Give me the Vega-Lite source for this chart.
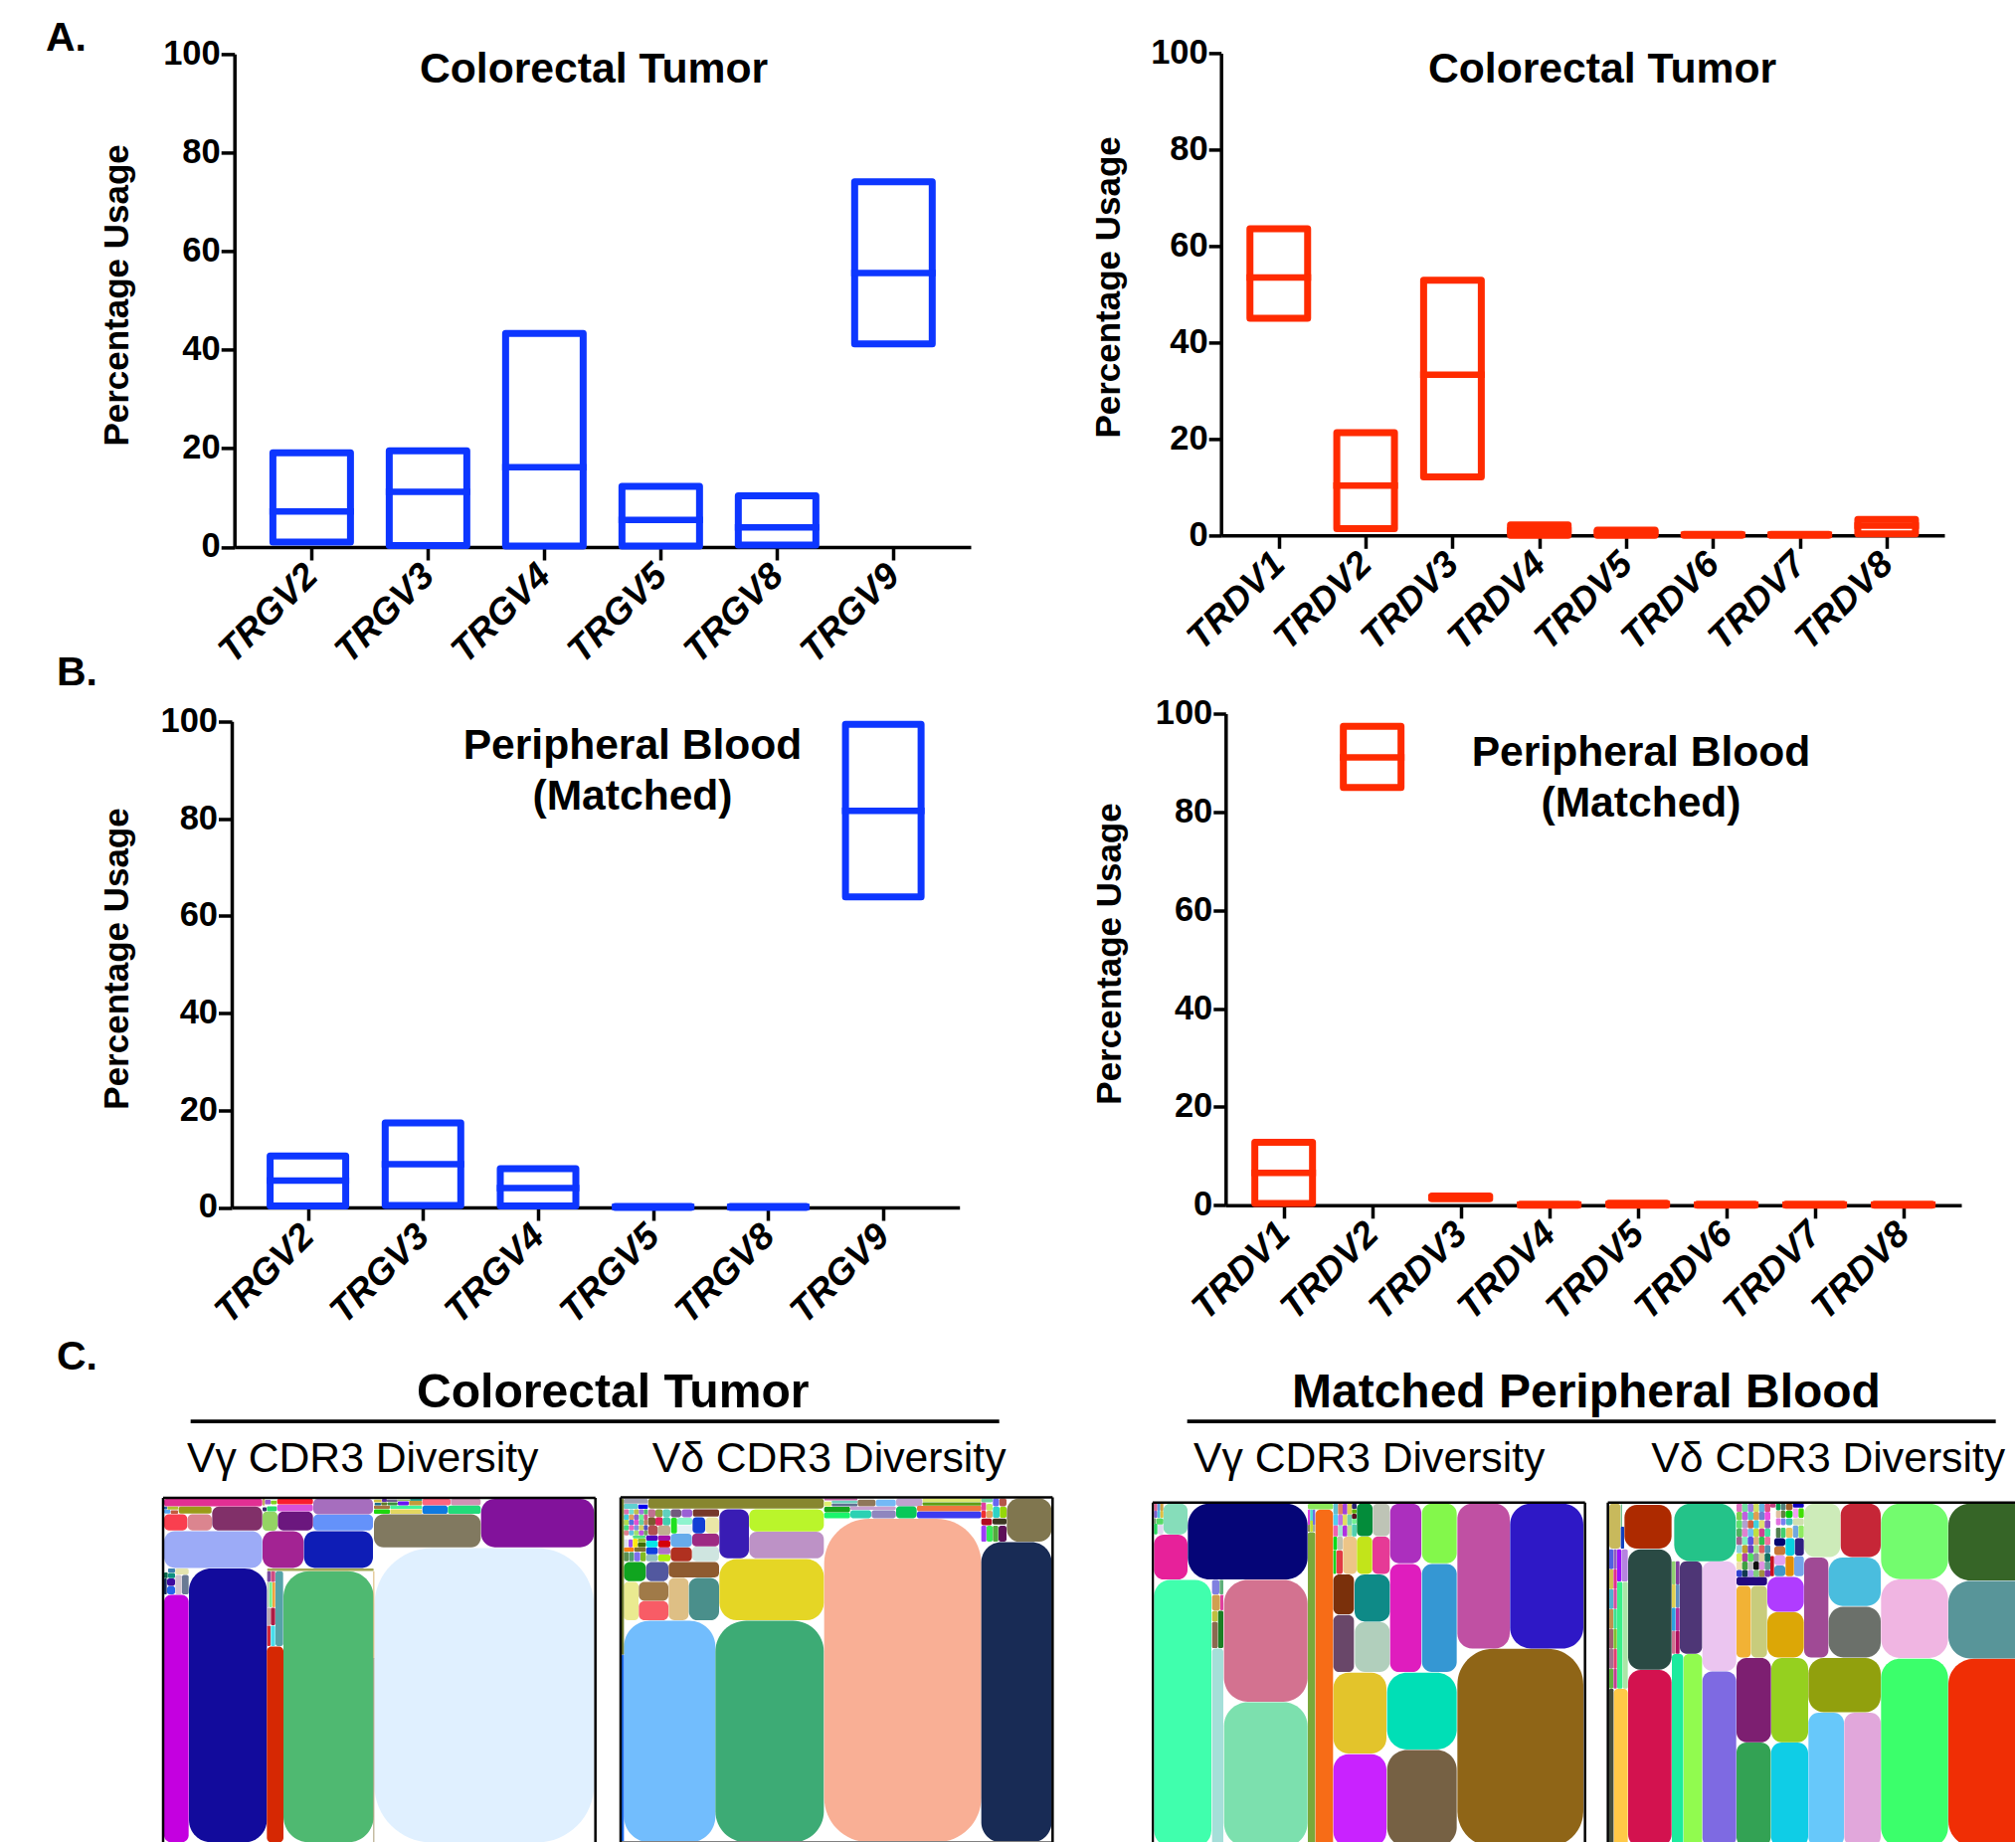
{"$schema":"https://vega.github.io/schema/vega-lite/v6.json","background":"white","padding":{"left":46,"top":17.4,"right":0,"bottom":0},"bounds":"flush","columns":2,"spacing":{"row":167.1,"column":0},"resolve":{"scale":{"color":"independent"}},
"config":{"view":{"stroke":null},"font":"Liberation Sans","axis":{"grid":false,"labelOverlap":false,"labelFlush":false},"title":{"font":"Liberation Sans","fontWeight":"bold","color":"black"},"text":{"font":"Liberation Sans"}},
"datasets":{
"a1":[{"segment":"TRGV2","low":1,"median":7.2,"high":19.1},{"segment":"TRGV3","low":0.3,"median":11.2,"high":19.5},{"segment":"TRGV4","low":0.2,"median":16.2,"high":43.3},{"segment":"TRGV5","low":0.2,"median":5.5,"high":12.3},{"segment":"TRGV8","low":0.4,"median":4,"high":10.4},{"segment":"TRGV9","low":41.2,"median":55.6,"high":74.1}],
"a2":[{"segment":"TRDV1","low":45,"median":53.5,"high":63.6},{"segment":"TRDV2","low":1.4,"median":10.3,"high":21.3},{"segment":"TRDV3","low":12.1,"median":33.3,"high":52.9},{"segment":"TRDV4","low":0,"median":1,"high":2.2},{"segment":"TRDV5","low":0,"median":0.5,"high":1.1},{"segment":"TRDV6","low":0,"median":0.1,"high":0.2},{"segment":"TRDV7","low":0,"median":0.1,"high":0.2},{"segment":"TRDV8","low":0.3,"median":2,"high":3.3}],
"b1":[{"segment":"TRGV2","low":0.3,"median":5.5,"high":10.6},{"segment":"TRGV3","low":0.4,"median":8.9,"high":17.4},{"segment":"TRGV4","low":0.3,"median":4,"high":8},{"segment":"TRGV5","low":0,"median":0.1,"high":0.2},{"segment":"TRGV8","low":0,"median":0.1,"high":0.2},{"segment":"TRGV9","low":63.9,"median":81.6,"high":99.4}],
"b2":[{"segment":"TRDV1","low":0.35,"median":6.6,"high":12.8},{"segment":"TRDV2","low":85,"median":91.1,"high":97.4},{"segment":"TRDV3","low":1.3,"median":1.6,"high":1.9},{"segment":"TRDV4","low":0,"median":0.1,"high":0.2},{"segment":"TRDV5","low":0,"median":0.2,"high":0.4},{"segment":"TRDV6","low":0,"median":0.1,"high":0.2},{"segment":"TRDV7","low":0,"median":0.1,"high":0.2},{"segment":"TRDV8","low":0,"median":0.1,"high":0.2}],
"t1":[
{"id":"001","x0":682,"y0":198,"x1":1345,"y1":1086},{"id":"002","x0":123,"y0":260,"x1":358,"y1":1086},{"id":"003","x0":408,"y0":268,"x1":680,"y1":1086},{"id":"004","x0":48,"y0":339,"x1":122,"y1":1086},{"id":"005","x0":358,"y0":495,"x1":408,"y1":1086},{"id":"006","x0":1004,"y0":50,"x1":1345,"y1":196},{"id":"007","x0":681,"y0":96,"x1":1003,"y1":196},{"id":"008","x0":48,"y0":147,"x1":344,"y1":258},{"id":"009","x0":345,"y0":147,"x1":469,"y1":258},{"id":"010","x0":470,"y0":147,"x1":678,"y1":258},
{"id":"011","x0":48,"y0":96,"x1":118,"y1":145},{"id":"012","x0":119,"y0":96,"x1":192,"y1":145},{"id":"013","x0":193,"y0":73,"x1":344,"y1":145},{"id":"014","x0":345,"y0":88,"x1":390,"y1":146},{"id":"015","x0":391,"y0":88,"x1":497,"y1":145},{"id":"016","x0":498,"y0":97,"x1":678,"y1":145},{"id":"017","x0":498,"y0":50,"x1":678,"y1":96},{"id":"018","x0":389,"y0":67,"x1":497,"y1":87},{"id":"019","x0":389,"y0":50,"x1":497,"y1":66},{"id":"020","x0":48,"y0":50,"x1":344,"y1":72},
{"id":"021","x0":92,"y0":73,"x1":191,"y1":94},{"id":"022","x0":48,"y0":82,"x1":67,"y1":94},{"id":"023","x0":68,"y0":84,"x1":90,"y1":95},{"id":"024","x0":58,"y0":73,"x1":91,"y1":82},{"id":"025","x0":48,"y0":73,"x1":57,"y1":81},{"id":"026","x0":352,"y0":53,"x1":370,"y1":66},{"id":"027","x0":370,"y0":55,"x1":388,"y1":66},{"id":"028","x0":358,"y0":72,"x1":388,"y1":87},{"id":"029","x0":345,"y0":75,"x1":357,"y1":87},{"id":"030","x0":345,"y0":50,"x1":352,"y1":70},
{"id":"031","x0":827,"y0":50,"x1":912,"y1":69},{"id":"032","x0":913,"y0":50,"x1":1003,"y1":69},{"id":"033","x0":827,"y0":70,"x1":903,"y1":95},{"id":"034","x0":904,"y0":70,"x1":1003,"y1":95},{"id":"035","x0":730,"y0":81,"x1":826,"y1":95},{"id":"036","x0":681,"y0":81,"x1":729,"y1":95},{"id":"037","x0":730,"y0":70,"x1":826,"y1":80},{"id":"038","x0":681,"y0":70,"x1":729,"y1":80},{"id":"039","x0":787,"y0":56,"x1":826,"y1":69},{"id":"040","x0":753,"y0":57,"x1":786,"y1":69},
{"id":"041","x0":722,"y0":60,"x1":752,"y1":69},{"id":"042","x0":703,"y0":60,"x1":721,"y1":69},{"id":"043","x0":683,"y0":62,"x1":702,"y1":69},{"id":"044","x0":681,"y0":52,"x1":704,"y1":60},{"id":"045","x0":705,"y0":50,"x1":720,"y1":59},{"id":"046","x0":720,"y0":52,"x1":752,"y1":59},{"id":"047","x0":752,"y0":52,"x1":790,"y1":56},{"id":"048","x0":790,"y0":50,"x1":826,"y1":56},{"id":"049","x0":82,"y0":279,"x1":101,"y1":338},{"id":"050","x0":102,"y0":279,"x1":122,"y1":338},
{"id":"051","x0":82,"y0":260,"x1":122,"y1":278},{"id":"052","x0":57,"y0":313,"x1":81,"y1":338},{"id":"053","x0":57,"y0":290,"x1":81,"y1":312},{"id":"054","x0":60,"y0":273,"x1":81,"y1":289},{"id":"055","x0":60,"y0":260,"x1":81,"y1":272},{"id":"056","x0":48,"y0":272,"x1":59,"y1":289},{"id":"057","x0":48,"y0":290,"x1":56,"y1":338},{"id":"058","x0":359,"y0":260,"x1":680,"y1":267},{"id":"059","x0":384,"y0":268,"x1":407,"y1":494},{"id":"060","x0":370,"y0":432,"x1":383,"y1":494},
{"id":"061","x0":359,"y0":432,"x1":369,"y1":494},{"id":"062","x0":370,"y0":378,"x1":383,"y1":431},{"id":"063","x0":359,"y0":378,"x1":369,"y1":431},{"id":"064","x0":375,"y0":301,"x1":383,"y1":377},{"id":"065","x0":365,"y0":301,"x1":374,"y1":377},{"id":"066","x0":359,"y0":301,"x1":364,"y1":377},{"id":"067","x0":370,"y0":268,"x1":383,"y1":300},{"id":"068","x0":359,"y0":268,"x1":369,"y1":300},{"id":"069","x0":679,"y0":268,"x1":682,"y1":530},{"id":"070","x0":679,"y0":530,"x1":682,"y1":1086}
],
"t2":[
{"id":"001","x0":55,"y0":417,"x1":331,"y1":1086},{"id":"002","x0":331,"y0":417,"x1":658,"y1":1086},{"id":"003","x0":659,"y0":110,"x1":1133,"y1":1086},{"id":"004","x0":1133,"y0":180,"x1":1345,"y1":1086},{"id":"005","x0":1210,"y0":48,"x1":1345,"y1":179},{"id":"006","x0":343,"y0":231,"x1":658,"y1":416},{"id":"007","x0":433,"y0":81,"x1":658,"y1":148},{"id":"008","x0":433,"y0":149,"x1":658,"y1":229},{"id":"009","x0":343,"y0":81,"x1":432,"y1":229},{"id":"010","x0":128,"y0":48,"x1":658,"y1":79},
{"id":"011","x0":55,"y0":300,"x1":99,"y1":416},{"id":"012","x0":100,"y0":300,"x1":189,"y1":357},{"id":"013","x0":100,"y0":358,"x1":189,"y1":416},{"id":"014","x0":190,"y0":288,"x1":250,"y1":416},{"id":"015","x0":251,"y0":288,"x1":342,"y1":416},{"id":"016","x0":55,"y0":240,"x1":121,"y1":298},{"id":"017","x0":122,"y0":240,"x1":189,"y1":298},{"id":"018","x0":190,"y0":240,"x1":342,"y1":287},{"id":"019","x0":196,"y0":196,"x1":260,"y1":238},{"id":"020","x0":261,"y0":194,"x1":342,"y1":238},
{"id":"021","x0":196,"y0":155,"x1":260,"y1":195},{"id":"022","x0":261,"y0":155,"x1":342,"y1":193},{"id":"023","x0":262,"y0":105,"x1":300,"y1":154},{"id":"024","x0":301,"y0":105,"x1":342,"y1":154},{"id":"025","x0":197,"y0":107,"x1":215,"y1":154},{"id":"026","x0":216,"y0":107,"x1":261,"y1":128},{"id":"027","x0":216,"y0":129,"x1":261,"y1":154},{"id":"028","x0":196,"y0":81,"x1":228,"y1":105},{"id":"029","x0":229,"y0":81,"x1":261,"y1":105},{"id":"030","x0":263,"y0":81,"x1":342,"y1":103},
{"id":"031","x0":158,"y0":218,"x1":195,"y1":238},{"id":"032","x0":122,"y0":218,"x1":157,"y1":238},{"id":"033","x0":158,"y0":196,"x1":195,"y1":217},{"id":"034","x0":122,"y0":196,"x1":157,"y1":217},{"id":"035","x0":158,"y0":176,"x1":195,"y1":196},{"id":"036","x0":122,"y0":176,"x1":157,"y1":196},{"id":"037","x0":158,"y0":160,"x1":195,"y1":176},{"id":"038","x0":122,"y0":160,"x1":157,"y1":176},{"id":"039","x0":105,"y0":210,"x1":121,"y1":238},{"id":"040","x0":86,"y0":210,"x1":104,"y1":238},
{"id":"041","x0":71,"y0":210,"x1":85,"y1":238},{"id":"042","x0":55,"y0":210,"x1":70,"y1":238},{"id":"043","x0":86,"y0":196,"x1":121,"y1":209},{"id":"044","x0":55,"y0":196,"x1":85,"y1":209},{"id":"045","x0":97,"y0":182,"x1":121,"y1":195},{"id":"046","x0":97,"y0":170,"x1":121,"y1":181},{"id":"047","x0":82,"y0":170,"x1":96,"y1":196},{"id":"048","x0":69,"y0":172,"x1":81,"y1":196},{"id":"049","x0":55,"y0":172,"x1":68,"y1":196},{"id":"050","x0":82,"y0":160,"x1":120,"y1":169},
{"id":"051","x0":55,"y0":81,"x1":70,"y1":97},{"id":"052","x0":70,"y0":81,"x1":85,"y1":97},{"id":"053","x0":85,"y0":81,"x1":100,"y1":97},{"id":"054","x0":100,"y0":81,"x1":115,"y1":97},{"id":"055","x0":115,"y0":81,"x1":127,"y1":97},{"id":"056","x0":55,"y0":97,"x1":70,"y1":113},{"id":"057","x0":70,"y0":97,"x1":85,"y1":113},{"id":"058","x0":85,"y0":97,"x1":100,"y1":113},{"id":"059","x0":100,"y0":97,"x1":115,"y1":113},{"id":"060","x0":115,"y0":97,"x1":127,"y1":113},
{"id":"061","x0":55,"y0":113,"x1":70,"y1":129},{"id":"062","x0":70,"y0":113,"x1":85,"y1":129},{"id":"063","x0":85,"y0":113,"x1":100,"y1":129},{"id":"064","x0":100,"y0":113,"x1":115,"y1":129},{"id":"065","x0":115,"y0":113,"x1":127,"y1":129},{"id":"066","x0":55,"y0":129,"x1":70,"y1":145},{"id":"067","x0":70,"y0":129,"x1":85,"y1":145},{"id":"068","x0":85,"y0":129,"x1":100,"y1":145},{"id":"069","x0":100,"y0":129,"x1":115,"y1":145},{"id":"070","x0":115,"y0":129,"x1":127,"y1":145},
{"id":"071","x0":55,"y0":145,"x1":70,"y1":160},{"id":"072","x0":70,"y0":145,"x1":85,"y1":160},{"id":"073","x0":85,"y0":145,"x1":100,"y1":160},{"id":"074","x0":100,"y0":145,"x1":115,"y1":160},{"id":"075","x0":115,"y0":145,"x1":127,"y1":160},{"id":"076","x0":98,"y0":67,"x1":127,"y1":80},{"id":"077","x0":55,"y0":65,"x1":97,"y1":80},{"id":"078","x0":55,"y0":50,"x1":127,"y1":64},{"id":"079","x0":128,"y0":81,"x1":150,"y1":105},{"id":"080","x0":150,"y0":81,"x1":172,"y1":105},
{"id":"081","x0":172,"y0":81,"x1":195,"y1":105},{"id":"082","x0":128,"y0":105,"x1":150,"y1":130},{"id":"083","x0":150,"y0":105,"x1":172,"y1":130},{"id":"084","x0":172,"y0":105,"x1":195,"y1":130},{"id":"085","x0":128,"y0":130,"x1":157,"y1":159},{"id":"086","x0":157,"y0":130,"x1":195,"y1":159},{"id":"087","x0":760,"y0":52,"x1":814,"y1":72},{"id":"088","x0":815,"y0":52,"x1":875,"y1":72},{"id":"089","x0":876,"y0":48,"x1":955,"y1":72},{"id":"090","x0":956,"y0":48,"x1":1133,"y1":59},
{"id":"091","x0":956,"y0":60,"x1":1133,"y1":70},{"id":"092","x0":939,"y0":71,"x1":1133,"y1":87},{"id":"093","x0":939,"y0":88,"x1":1133,"y1":108},{"id":"094","x0":876,"y0":72,"x1":938,"y1":108},{"id":"095","x0":802,"y0":84,"x1":875,"y1":108},{"id":"096","x0":738,"y0":84,"x1":801,"y1":108},{"id":"097","x0":659,"y0":91,"x1":737,"y1":108},{"id":"098","x0":659,"y0":74,"x1":737,"y1":90},{"id":"099","x0":738,"y0":73,"x1":875,"y1":83},{"id":"100","x0":659,"y0":58,"x1":681,"y1":72},
{"id":"101","x0":682,"y0":64,"x1":759,"y1":72},{"id":"102","x0":682,"y0":55,"x1":759,"y1":63},{"id":"103","x0":659,"y0":48,"x1":759,"y1":54},{"id":"104","x0":1133,"y0":109,"x1":1165,"y1":129},{"id":"105","x0":1167,"y0":109,"x1":1209,"y1":127},{"id":"106","x0":1133,"y0":131,"x1":1148,"y1":179},{"id":"107","x0":1149,"y0":131,"x1":1167,"y1":179},{"id":"108","x0":1168,"y0":131,"x1":1184,"y1":179},{"id":"109","x0":1185,"y0":131,"x1":1209,"y1":179},{"id":"110","x0":1189,"y0":73,"x1":1209,"y1":107},
{"id":"111","x0":1168,"y0":73,"x1":1188,"y1":107},{"id":"112","x0":1148,"y0":86,"x1":1167,"y1":107},{"id":"113","x0":1133,"y0":86,"x1":1147,"y1":107},{"id":"114","x0":1187,"y0":48,"x1":1209,"y1":72},{"id":"115","x0":1168,"y0":48,"x1":1186,"y1":72},{"id":"116","x0":1148,"y0":65,"x1":1167,"y1":85},{"id":"117","x0":1133,"y0":60,"x1":1147,"y1":85},{"id":"118","x0":1133,"y0":48,"x1":1167,"y1":60},{"id":"119","x0":48,"y0":50,"x1":55,"y1":520},{"id":"120","x0":48,"y0":520,"x1":55,"y1":1086},
{"id":"121","x0":42,"y0":1082,"x1":1350,"y1":1086}
],
"t3":[
{"id":"001","x0":34,"y0":294,"x1":207,"y1":1100},{"id":"002","x0":209,"y0":501,"x1":243,"y1":1100},{"id":"003","x0":245,"y0":294,"x1":497,"y1":662},{"id":"004","x0":245,"y0":663,"x1":497,"y1":1100},{"id":"005","x0":136,"y0":64,"x1":497,"y1":293},{"id":"006","x0":34,"y0":158,"x1":135,"y1":293},{"id":"007","x0":62,"y0":64,"x1":135,"y1":157},{"id":"008","x0":498,"y0":150,"x1":520,"y1":1100},{"id":"009","x0":521,"y0":82,"x1":574,"y1":1100},{"id":"010","x0":498,"y0":64,"x1":574,"y1":81},
{"id":"011","x0":949,"y0":502,"x1":1329,"y1":1100},{"id":"012","x0":1108,"y0":64,"x1":1329,"y1":501},{"id":"013","x0":949,"y0":64,"x1":1107,"y1":501},{"id":"014","x0":575,"y0":820,"x1":735,"y1":1100},{"id":"015","x0":737,"y0":807,"x1":947,"y1":1100},{"id":"016","x0":575,"y0":574,"x1":735,"y1":818},{"id":"017","x0":737,"y0":574,"x1":947,"y1":806},{"id":"018","x0":746,"y0":246,"x1":840,"y1":572},{"id":"019","x0":842,"y0":246,"x1":947,"y1":572},{"id":"020","x0":746,"y0":64,"x1":840,"y1":244},
{"id":"021","x0":842,"y0":64,"x1":947,"y1":244},{"id":"022","x0":575,"y0":278,"x1":637,"y1":398},{"id":"023","x0":639,"y0":278,"x1":745,"y1":420},{"id":"024","x0":575,"y0":400,"x1":637,"y1":572},{"id":"025","x0":640,"y0":421,"x1":745,"y1":572},{"id":"026","x0":693,"y0":164,"x1":745,"y1":276},{"id":"027","x0":646,"y0":164,"x1":692,"y1":276},{"id":"028","x0":604,"y0":164,"x1":645,"y1":276},{"id":"029","x0":584,"y0":205,"x1":603,"y1":276},{"id":"030","x0":575,"y0":205,"x1":583,"y1":276},
{"id":"031","x0":587,"y0":164,"x1":603,"y1":204},{"id":"032","x0":575,"y0":164,"x1":586,"y1":204},{"id":"033","x0":646,"y0":64,"x1":693,"y1":162},{"id":"034","x0":694,"y0":64,"x1":745,"y1":162},{"id":"035","x0":41,"y0":108,"x1":62,"y1":127},{"id":"036","x0":45,"y0":128,"x1":62,"y1":157},{"id":"037","x0":34,"y0":125,"x1":44,"y1":157},{"id":"038","x0":34,"y0":108,"x1":40,"y1":125},{"id":"039","x0":34,"y0":64,"x1":44,"y1":86},{"id":"040","x0":44,"y0":64,"x1":53,"y1":86},
{"id":"041","x0":53,"y0":64,"x1":62,"y1":86},{"id":"042","x0":34,"y0":86,"x1":44,"y1":107},{"id":"043","x0":44,"y0":86,"x1":53,"y1":107},{"id":"044","x0":53,"y0":86,"x1":62,"y1":107},{"id":"045","x0":498,"y0":82,"x1":505,"y1":128},{"id":"046","x0":505,"y0":82,"x1":513,"y1":128},{"id":"047","x0":513,"y0":82,"x1":520,"y1":128},{"id":"048","x0":498,"y0":128,"x1":505,"y1":149},{"id":"049","x0":505,"y0":115,"x1":513,"y1":149},{"id":"050","x0":513,"y0":128,"x1":520,"y1":149},
{"id":"051","x0":575,"y0":64,"x1":589,"y1":97},{"id":"052","x0":589,"y0":64,"x1":603,"y1":97},{"id":"053","x0":603,"y0":64,"x1":617,"y1":97},{"id":"054","x0":617,"y0":64,"x1":631,"y1":97},{"id":"055","x0":631,"y0":64,"x1":645,"y1":80},{"id":"056","x0":575,"y0":97,"x1":589,"y1":130},{"id":"057","x0":589,"y0":97,"x1":603,"y1":130},{"id":"058","x0":603,"y0":97,"x1":617,"y1":130},{"id":"059","x0":617,"y0":97,"x1":631,"y1":130},{"id":"060","x0":631,"y0":81,"x1":645,"y1":94},
{"id":"061","x0":631,"y0":95,"x1":645,"y1":110},{"id":"062","x0":631,"y0":110,"x1":645,"y1":125},{"id":"063","x0":575,"y0":130,"x1":589,"y1":163},{"id":"064","x0":589,"y0":130,"x1":603,"y1":163},{"id":"065","x0":603,"y0":130,"x1":617,"y1":163},{"id":"066","x0":617,"y0":130,"x1":631,"y1":163},{"id":"067","x0":631,"y0":126,"x1":645,"y1":163},{"id":"068","x0":227,"y0":387,"x1":243,"y1":500},{"id":"069","x0":232,"y0":294,"x1":243,"y1":338},{"id":"070","x0":234,"y0":339,"x1":243,"y1":386},
{"id":"071","x0":209,"y0":388,"x1":226,"y1":420},{"id":"072","x0":209,"y0":421,"x1":226,"y1":500},{"id":"073","x0":209,"y0":294,"x1":231,"y1":338},{"id":"074","x0":209,"y0":339,"x1":233,"y1":387}
],
"t4":[
{"id":"001","x0":1080,"y0":532,"x1":1353,"y1":1100},{"id":"002","x0":877,"y0":532,"x1":1079,"y1":1100},{"id":"003","x0":1080,"y0":297,"x1":1353,"y1":531},{"id":"004","x0":877,"y0":293,"x1":1079,"y1":530},{"id":"005","x0":1080,"y0":64,"x1":1353,"y1":296},{"id":"006","x0":877,"y0":64,"x1":1079,"y1":292},{"id":"007","x0":755,"y0":64,"x1":876,"y1":225},{"id":"008","x0":645,"y0":64,"x1":754,"y1":225},{"id":"009","x0":719,"y0":227,"x1":876,"y1":373},{"id":"010","x0":719,"y0":375,"x1":876,"y1":528},
{"id":"011","x0":645,"y0":227,"x1":718,"y1":528},{"id":"012","x0":658,"y0":530,"x1":876,"y1":693},{"id":"013","x0":766,"y0":695,"x1":876,"y1":1100},{"id":"014","x0":658,"y0":695,"x1":765,"y1":1100},{"id":"015","x0":546,"y0":530,"x1":657,"y1":784},{"id":"016","x0":545,"y0":785,"x1":657,"y1":1100},{"id":"017","x0":441,"y0":530,"x1":545,"y1":784},{"id":"018","x0":441,"y0":785,"x1":544,"y1":1100},{"id":"019","x0":338,"y0":570,"x1":440,"y1":1100},{"id":"020","x0":338,"y0":238,"x1":440,"y1":569},
{"id":"021","x0":270,"y0":238,"x1":337,"y1":517},{"id":"022","x0":281,"y0":518,"x1":337,"y1":1100},{"id":"023","x0":246,"y0":518,"x1":280,"y1":1100},{"id":"024","x0":114,"y0":566,"x1":245,"y1":1100},{"id":"025","x0":114,"y0":202,"x1":245,"y1":565},{"id":"026","x0":103,"y0":68,"x1":245,"y1":200},{"id":"027","x0":253,"y0":64,"x1":439,"y1":238},{"id":"028","x0":57,"y0":64,"x1":91,"y1":200},{"id":"029","x0":71,"y0":623,"x1":113,"y1":1100},{"id":"030","x0":57,"y0":623,"x1":70,"y1":1100},
{"id":"031","x0":81,"y0":300,"x1":97,"y1":622},{"id":"032","x0":98,"y0":300,"x1":113,"y1":622},{"id":"033","x0":94,"y0":202,"x1":113,"y1":299},{"id":"034","x0":81,"y0":202,"x1":93,"y1":299},{"id":"035","x0":534,"y0":391,"x1":644,"y1":528},{"id":"036","x0":534,"y0":285,"x1":644,"y1":390},{"id":"037","x0":485,"y0":312,"x1":533,"y1":528},{"id":"038","x0":441,"y0":312,"x1":484,"y1":528},{"id":"039","x0":441,"y0":285,"x1":533,"y1":311},{"id":"040","x0":615,"y0":222,"x1":644,"y1":283},
{"id":"041","x0":589,"y0":222,"x1":614,"y1":283},{"id":"042","x0":555,"y0":251,"x1":588,"y1":283},{"id":"043","x0":555,"y0":220,"x1":588,"y1":250},{"id":"044","x0":617,"y0":168,"x1":644,"y1":221},{"id":"045","x0":589,"y0":168,"x1":616,"y1":221},{"id":"046","x0":555,"y0":193,"x1":588,"y1":219},{"id":"047","x0":555,"y0":168,"x1":588,"y1":192},{"id":"048","x0":543,"y0":222,"x1":554,"y1":283},{"id":"049","x0":628,"y0":130,"x1":644,"y1":167},{"id":"050","x0":611,"y0":130,"x1":627,"y1":167},
{"id":"051","x0":590,"y0":137,"x1":610,"y1":167},{"id":"052","x0":575,"y0":137,"x1":589,"y1":167},{"id":"053","x0":560,"y0":137,"x1":574,"y1":167},{"id":"054","x0":611,"y0":108,"x1":644,"y1":129},{"id":"055","x0":590,"y0":108,"x1":610,"y1":129},{"id":"056","x0":575,"y0":108,"x1":589,"y1":129},{"id":"057","x0":560,"y0":108,"x1":574,"y1":129},{"id":"058","x0":628,"y0":78,"x1":644,"y1":107},{"id":"059","x0":611,"y0":78,"x1":627,"y1":107},{"id":"060","x0":589,"y0":85,"x1":610,"y1":107},
{"id":"061","x0":575,"y0":85,"x1":588,"y1":107},{"id":"062","x0":560,"y0":85,"x1":574,"y1":107},{"id":"063","x0":611,"y0":64,"x1":644,"y1":76},{"id":"064","x0":590,"y0":64,"x1":610,"y1":84},{"id":"065","x0":575,"y0":64,"x1":589,"y1":84},{"id":"066","x0":560,"y0":64,"x1":574,"y1":84},{"id":"067","x0":543,"y0":64,"x1":559,"y1":76},
{"id":"068","x0":441,"y0":64,"x1":458,"y1":89},{"id":"069","x0":458,"y0":64,"x1":475,"y1":89},{"id":"070","x0":475,"y0":64,"x1":492,"y1":89},{"id":"071","x0":492,"y0":64,"x1":509,"y1":89},{"id":"072","x0":509,"y0":64,"x1":526,"y1":89},{"id":"073","x0":526,"y0":64,"x1":543,"y1":89},
{"id":"074","x0":441,"y0":89,"x1":458,"y1":114},{"id":"075","x0":458,"y0":89,"x1":475,"y1":114},{"id":"076","x0":475,"y0":89,"x1":492,"y1":114},{"id":"077","x0":492,"y0":89,"x1":509,"y1":114},{"id":"078","x0":509,"y0":89,"x1":526,"y1":114},{"id":"079","x0":526,"y0":89,"x1":543,"y1":114},
{"id":"080","x0":441,"y0":114,"x1":458,"y1":139},{"id":"081","x0":458,"y0":114,"x1":475,"y1":139},{"id":"082","x0":475,"y0":114,"x1":492,"y1":139},{"id":"083","x0":492,"y0":114,"x1":509,"y1":139},{"id":"084","x0":509,"y0":114,"x1":526,"y1":139},{"id":"085","x0":526,"y0":114,"x1":543,"y1":139},
{"id":"086","x0":441,"y0":139,"x1":458,"y1":164},{"id":"087","x0":458,"y0":139,"x1":475,"y1":164},{"id":"088","x0":475,"y0":139,"x1":492,"y1":164},{"id":"089","x0":492,"y0":139,"x1":509,"y1":164},{"id":"090","x0":509,"y0":139,"x1":526,"y1":164},{"id":"091","x0":526,"y0":139,"x1":543,"y1":164},
{"id":"092","x0":441,"y0":164,"x1":458,"y1":189},{"id":"093","x0":458,"y0":164,"x1":475,"y1":189},{"id":"094","x0":475,"y0":164,"x1":492,"y1":189},{"id":"095","x0":492,"y0":164,"x1":509,"y1":189},{"id":"096","x0":509,"y0":164,"x1":526,"y1":189},{"id":"097","x0":526,"y0":164,"x1":543,"y1":189},
{"id":"098","x0":441,"y0":189,"x1":458,"y1":214},{"id":"099","x0":458,"y0":189,"x1":475,"y1":214},{"id":"100","x0":475,"y0":189,"x1":492,"y1":214},{"id":"101","x0":492,"y0":189,"x1":509,"y1":214},{"id":"102","x0":509,"y0":189,"x1":526,"y1":214},{"id":"103","x0":526,"y0":189,"x1":543,"y1":214},
{"id":"104","x0":441,"y0":214,"x1":458,"y1":239},{"id":"105","x0":458,"y0":214,"x1":475,"y1":239},{"id":"106","x0":475,"y0":214,"x1":492,"y1":239},{"id":"107","x0":492,"y0":214,"x1":509,"y1":239},{"id":"108","x0":509,"y0":214,"x1":526,"y1":239},{"id":"109","x0":526,"y0":214,"x1":543,"y1":239},
{"id":"110","x0":441,"y0":239,"x1":458,"y1":264},{"id":"111","x0":458,"y0":239,"x1":475,"y1":264},{"id":"112","x0":475,"y0":239,"x1":492,"y1":264},{"id":"113","x0":492,"y0":239,"x1":509,"y1":264},{"id":"114","x0":509,"y0":239,"x1":526,"y1":264},{"id":"115","x0":526,"y0":239,"x1":543,"y1":264},
{"id":"116","x0":441,"y0":264,"x1":458,"y1":285},{"id":"117","x0":458,"y0":264,"x1":475,"y1":285},{"id":"118","x0":475,"y0":264,"x1":492,"y1":285},{"id":"119","x0":492,"y0":264,"x1":509,"y1":285},{"id":"120","x0":509,"y0":264,"x1":526,"y1":285},{"id":"121","x0":526,"y0":264,"x1":543,"y1":285},
{"id":"122","x0":57,"y0":202,"x1":69,"y1":262},{"id":"123","x0":70,"y0":202,"x1":80,"y1":262},{"id":"124","x0":57,"y0":262,"x1":69,"y1":322},{"id":"125","x0":70,"y0":262,"x1":80,"y1":322},{"id":"126","x0":57,"y0":322,"x1":69,"y1":382},{"id":"127","x0":70,"y0":322,"x1":80,"y1":382},{"id":"128","x0":57,"y0":382,"x1":69,"y1":442},{"id":"129","x0":70,"y0":382,"x1":80,"y1":442},{"id":"130","x0":57,"y0":442,"x1":69,"y1":502},{"id":"131","x0":70,"y0":442,"x1":80,"y1":502},{"id":"132","x0":57,"y0":502,"x1":69,"y1":562},{"id":"133","x0":70,"y0":502,"x1":80,"y1":562},{"id":"134","x0":57,"y0":562,"x1":69,"y1":622},{"id":"135","x0":70,"y0":562,"x1":80,"y1":622},
{"id":"136","x0":246,"y0":238,"x1":257,"y1":308},{"id":"137","x0":258,"y0":238,"x1":269,"y1":308},{"id":"138","x0":246,"y0":308,"x1":257,"y1":378},{"id":"139","x0":258,"y0":308,"x1":269,"y1":378},{"id":"140","x0":246,"y0":378,"x1":257,"y1":448},{"id":"141","x0":258,"y0":378,"x1":269,"y1":448},{"id":"142","x0":246,"y0":448,"x1":257,"y1":517},{"id":"143","x0":258,"y0":448,"x1":269,"y1":517},{"id":"144","x0":92,"y0":66,"x1":96,"y1":134},{"id":"145","x0":92,"y0":134,"x1":102,"y1":200}
]
},
"concat":[
{"width":995,"height":496.6,"title":{"text":"Colorectal Tumor","fontSize":42.7,"anchor":"middle","baseline":"alphabetic","offset":0,"dx":-63.5,"dy":108},"resolve":{"scale":{"x":"independent"}},
"layer":[{"data":{"name":"a1"},"layer":[{"mark":{"type":"bar","size":78,"fill":"transparent","stroke":"#0D36FF","strokeWidth":7,"strokeJoin":"round"},"encoding":{"x":{"field":"segment","type":"nominal","sort":null,"scale":{"type":"point","padding":0.664,"range":[72.7,813]},"axis":{"title":null,"domainColor":"black","domainWidth":3.5,"tickColor":"black","tickWidth":3.5,"tickSize":13,"labelAngle":-45,"labelAlign":"right","labelBaseline":"middle","labelPadding":10,"labelFontSize":37,"labelFontWeight":"bold","labelFontStyle":"italic","labelColor":"black"}},"y":{"field":"low","type":"quantitative","scale":{"domain":[0,100],"range":[496.6,0.9],"nice":false},"axis":{"title":"Percentage Usage","titleFontSize":35,"titleFontWeight":"bold","titleColor":"black","titleX":-100,"titleY":243,"offset":-72.7,"values":[0,20,40,60,80,100],"domainColor":"black","domainWidth":3.5,"tickColor":"black","tickWidth":3.5,"tickSize":13.5,"labelPadding":1,"labelFontSize":34.5,"labelFontWeight":"bold","labelColor":"black"}},"y2":{"field":"high"}}},
{"mark":{"type":"tick","size":85,"thickness":6.5,"color":"#0D36FF","opacity":1},"encoding":{"x":{"field":"segment","type":"nominal","sort":null},"y":{"field":"median","type":"quantitative"}}}]},
{"data":{"values":[{"px":-117,"value":100.64,"label":"A."}]},"mark":{"type":"text","align":"left","baseline":"alphabetic","fontSize":41,"fontWeight":"bold","color":"black"},"encoding":{"x":{"field":"px","type":"quantitative","scale":{"domain":[0,995],"nice":false,"zero":false},"axis":null},"y":{"field":"value","type":"quantitative"},"text":{"field":"label"}}}]},
{"width":868,"height":484.9,"data":{"name":"a2"},"title":{"text":"Colorectal Tumor","fontSize":42.7,"anchor":"middle","baseline":"alphabetic","offset":0,"dx":19,"dy":90},
"layer":[{"mark":{"type":"bar","size":58,"fill":"transparent","stroke":"#FF2B00","strokeWidth":7,"strokeJoin":"round"},"encoding":{"x":{"field":"segment","type":"nominal","sort":null,"scale":{"type":"point","padding":0.665,"range":[69.7,797]},"axis":{"title":null,"domainColor":"black","domainWidth":3.5,"tickColor":"black","tickWidth":3.5,"tickSize":13,"labelAngle":-45,"labelAlign":"right","labelBaseline":"middle","labelPadding":10,"labelFontSize":37,"labelFontWeight":"bold","labelFontStyle":"italic","labelColor":"black"}},"y":{"field":"low","type":"quantitative","scale":{"domain":[0,100],"nice":false},"axis":{"title":"Percentage Usage","titleFontSize":35,"titleFontWeight":"bold","titleColor":"black","titleX":-95.5,"titleY":235,"offset":-69.7,"values":[0,20,40,60,80,100],"domainColor":"black","domainWidth":3.5,"tickColor":"black","tickWidth":3.5,"tickSize":12.5,"labelPadding":1,"labelFontSize":34.5,"labelFontWeight":"bold","labelColor":"black"}},"y2":{"field":"high"}}},
{"mark":{"type":"tick","size":65,"thickness":6.5,"color":"#FF2B00","opacity":1},"encoding":{"x":{"field":"segment","type":"nominal","sort":null},"y":{"field":"median","type":"quantitative"}}}]},
{"width":995,"height":496.5,"title":{"text":["Peripheral Blood","(Matched)"],"fontSize":42.6,"lineHeight":51,"anchor":"middle","baseline":"alphabetic","offset":0,"dx":-24.5,"dy":200},"resolve":{"scale":{"x":"independent"}},
"layer":[{"data":{"name":"b1"},"layer":[{"mark":{"type":"bar","size":76,"fill":"transparent","stroke":"#0D36FF","strokeWidth":7,"strokeJoin":"round"},"encoding":{"x":{"field":"segment","type":"nominal","sort":null,"scale":{"type":"point","padding":0.662,"range":[70,801.7]},"axis":{"title":null,"domainColor":"black","domainWidth":3.5,"tickColor":"black","tickWidth":3.5,"tickSize":13,"labelAngle":-45,"labelAlign":"right","labelBaseline":"middle","labelPadding":10,"labelFontSize":37,"labelFontWeight":"bold","labelFontStyle":"italic","labelColor":"black"}},"y":{"field":"low","type":"quantitative","scale":{"domain":[0,100],"range":[496.5,7.8],"nice":false},"axis":{"title":"Percentage Usage","titleFontSize":35,"titleFontWeight":"bold","titleColor":"black","titleX":-97.4,"titleY":246,"offset":-70,"values":[0,20,40,60,80,100],"domainColor":"black","domainWidth":3.5,"tickColor":"black","tickWidth":3.5,"tickSize":13.5,"labelPadding":1,"labelFontSize":34.5,"labelFontWeight":"bold","labelColor":"black"}},"y2":{"field":"high"}}},
{"mark":{"type":"tick","size":83,"thickness":6.5,"color":"#0D36FF","opacity":1},"encoding":{"x":{"field":"segment","type":"nominal","sort":null},"y":{"field":"median","type":"quantitative"}}}]},
{"data":{"values":[{"px":-106,"value":107.4,"label":"B."}]},"mark":{"type":"text","align":"left","baseline":"alphabetic","fontSize":41,"fontWeight":"bold","color":"black"},"encoding":{"x":{"field":"px","type":"quantitative","scale":{"domain":[0,995],"nice":false,"zero":false},"axis":null},"y":{"field":"value","type":"quantitative"},"text":{"field":"label"}}}]},
{"width":868,"height":494.3,"data":{"name":"b2"},"title":{"text":["Peripheral Blood","(Matched)"],"fontSize":42.6,"lineHeight":51,"anchor":"middle","baseline":"alphabetic","offset":0,"dx":58,"dy":164},
"layer":[{"mark":{"type":"bar","size":58,"fill":"transparent","stroke":"#FF2B00","strokeWidth":7,"strokeJoin":"round"},"encoding":{"x":{"field":"segment","type":"nominal","sort":null,"scale":{"type":"point","padding":0.656,"range":[74.3,814]},"axis":{"title":null,"domainColor":"black","domainWidth":3.5,"tickColor":"black","tickWidth":3.5,"tickSize":13,"labelAngle":-45,"labelAlign":"right","labelBaseline":"middle","labelPadding":10,"labelFontSize":37,"labelFontWeight":"bold","labelFontStyle":"italic","labelColor":"black"}},"y":{"field":"low","type":"quantitative","scale":{"domain":[0,100],"nice":false},"axis":{"title":"Percentage Usage","titleFontSize":35,"titleFontWeight":"bold","titleColor":"black","titleX":-99,"titleY":241,"offset":-74.3,"values":[0,20,40,60,80,100],"domainColor":"black","domainWidth":3.5,"tickColor":"black","tickWidth":3.5,"tickSize":12.5,"labelPadding":1,"labelFontSize":34.5,"labelFontWeight":"bold","labelColor":"black"}},"y2":{"field":"high"}}},
{"mark":{"type":"tick","size":65,"thickness":6.5,"color":"#FF2B00","opacity":1},"encoding":{"x":{"field":"segment","type":"nominal","sort":null},"y":{"field":"median","type":"quantitative"}}}]},
{"width":995,"height":470.8,"resolve":{"scale":{"x":"independent","color":"independent"}},"layer":[
{"layer":[
{"data":{"name":"t1"},"mark":{"type":"rect","clip":true,"cornerRadius":{"expr":"min(58,0.095*min(datum.x1-datum.x0,datum.y1-datum.y0))"}},"encoding":{"x":{"field":"x0","type":"quantitative","scale":{"domain":[42,1352],"range":[0,436.67],"nice":false,"zero":false},"axis":null},"x2":{"field":"x1"},"y":{"field":"y0","type":"quantitative","scale":{"domain":[42,1086],"range":[122.8,470.8],"nice":false,"zero":false},"axis":null},"y2":{"field":"y1"},"color":{"field":"id","type":"nominal","legend":null,"scale":{"range":["#E0F0FF","#120B9C","#4FB971","#C400E0","#D62803","#82129B","#817960","#9CABF7","#A32393","#0E1DB6","#FA3F4F","#DB858F","#813069","#94D464","#6B177E","#6492FA","#A66EBE","#D851DA","#FA1D2F","#E22F93","#9A9A18","#58A8F8","#C25B3E","#B0C030","#2060B0","#9B59D0","#80D020","#2BDC6C","#352A70","#C0B060","#FF6680","#D193B5","#0F7AE0","#22DB7A","#E3D760","#1FD60F","#41F59A","#A7743F","#C49B3A","#6A14F5","#3C8E3E","#5D7A2A","#1E6D8C","#D0C040","#5B2AA8","#706090","#9BC060","#2CA090","#D0C4D0","#6A7A94","#E5E5B0","#2563EB","#3D0A9E","#0D8F80","#3C7FB0","#0E6B4D","#1A2E60","#A3A855","#55A3A8","#4ADDEB","#D12B3A","#AD1C45","#BBA9B0","#F3A23F","#7BF08C","#B5C8B0","#CF4D82","#7A4AA0","#D9B46E","#A89A75"]}}}},
{"data":{"values":[{"x0":45,"y0":47,"x1":1349,"y1":47},{"x0":45,"y0":47,"x1":45,"y1":1086},{"x0":1349,"y0":47,"x1":1349,"y1":1086}]},"mark":{"type":"rule","color":"black","strokeWidth":2.5},"encoding":{"x":{"field":"x0","type":"quantitative"},"x2":{"field":"x1"},"y":{"field":"y0","type":"quantitative"},"y2":{"field":"y1"}}},
{"data":{"values":[{"x0":128,"x1":2567,"y0":-183.6}]},"mark":{"type":"rule","color":"black","strokeWidth":3.7},"encoding":{"x":{"field":"x0","type":"quantitative"},"x2":{"field":"x1"},"y":{"field":"y0","type":"quantitative"}}},
{"data":{"values":[{"x0":-276,"y0":-339,"label":"C."}]},"mark":{"type":"text","align":"left","baseline":"alphabetic","fontSize":41,"fontWeight":"bold","color":"black"},"encoding":{"x":{"field":"x0","type":"quantitative"},"y":{"field":"y0","type":"quantitative"},"text":{"field":"label"}}},
{"data":{"values":[{"x0":810,"y0":-225,"label":"Colorectal Tumor"}]},"mark":{"type":"text","align":"left","baseline":"alphabetic","fontSize":48.1,"fontWeight":"bold","color":"black"},"encoding":{"x":{"field":"x0","type":"quantitative"},"y":{"field":"y0","type":"quantitative"},"text":{"field":"label"}}},
{"data":{"values":[{"x0":117,"y0":-30,"label":"Vγ CDR3 Diversity"}]},"mark":{"type":"text","align":"left","baseline":"alphabetic","fontSize":42.7,"color":"black"},"encoding":{"x":{"field":"x0","type":"quantitative"},"y":{"field":"y0","type":"quantitative"},"text":{"field":"label"}}}
]},
{"layer":[
{"data":{"name":"t2"},"mark":{"type":"rect","clip":true,"cornerRadius":{"expr":"min(58,0.095*min(datum.x1-datum.x0,datum.y1-datum.y0))"}},"encoding":{"x":{"field":"x0","type":"quantitative","scale":{"domain":[42,1350],"range":[460,896],"nice":false,"zero":false},"axis":null},"x2":{"field":"x1"},"y":{"field":"y0","type":"quantitative"},"y2":{"field":"y1"},"color":{"field":"id","type":"nominal","legend":null,"scale":{"range":["#72BDFD","#3DAB75","#F9AF95","#182B55","#80764F","#E5D625","#BAF52B","#BD92C6","#391CB4","#87862F","#EAEA90","#A07A48","#F85C66","#DEBF85","#4A8F8B","#10A51F","#52589F","#8E5B30","#B03020","#CFE5E0","#67ABEB","#9D2A83","#1240D5","#EBE7A7","#20E020","#8FF3CE","#E5F1F5","#725B7D","#9B5FD5","#77382A","#AAF010","#8FBEBE","#AE72C8","#0F3FE0","#D4000A","#08E8E8","#A412A8","#4F07C0","#80BB20","#7F6FF0","#4FA06F","#5A9050","#807030","#FF8010","#3F6A05","#8CBC30","#FFE810","#A24FF0","#E0E0F0","#50E080","#E070B0","#70E0D0","#C0C050","#A070E0","#50C070","#40D0E0","#E0A060","#9060D0","#70F090","#D05090","#B0E050","#5070E0","#E050D0","#60D0A0","#C08060","#40E080","#F060C0","#8090E0","#D0D060","#5050C0","#E08090","#60C0E0","#A0E070","#C050E0","#70A060","#0000F0","#60D0D0","#A0A0B0","#C07090","#90A040","#60D0C0","#7A5A30","#E02060","#40D0B0","#B05050","#C0B090","#8F7759","#74B9F6","#BFA2CF","#DDE66F","#5F9E16","#EE7640","#3B3BF0","#08C858","#8F86BE","#2BD1B3","#19F56C","#17A61E","#C79FD0","#E0F070","#607090","#70D0C0","#C060A0","#B10A21","#3C3722","#9D3EF7","#38E958","#51AC3E","#5D1158","#95D80A","#2FD2C5","#DFA35F","#F03030","#B5564A","#6767F0","#C0F060","#E040A0","#70D0A0","#6F7D2F","#1D6BEF","#808080"]}}}},
{"data":{"values":[{"x0":45,"y0":45,"x1":1348,"y1":45},{"x0":45,"y0":45,"x1":45,"y1":1086},{"x0":1348,"y0":45,"x1":1348,"y1":1086}]},"mark":{"type":"rule","color":"black","strokeWidth":2.5},"encoding":{"x":{"field":"x0","type":"quantitative"},"x2":{"field":"x1"},"y":{"field":"y0","type":"quantitative"},"y2":{"field":"y1"}}},
{"data":{"values":[{"x0":140,"y0":-30,"label":"Vδ CDR3 Diversity"}]},"mark":{"type":"text","align":"left","baseline":"alphabetic","fontSize":42.7,"color":"black"},"encoding":{"x":{"field":"x0","type":"quantitative"},"y":{"field":"y0","type":"quantitative"},"text":{"field":"label"}}}
]}
]},
{"width":868,"height":470.8,"resolve":{"scale":{"x":"independent","color":"independent"}},"layer":[
{"layer":[
{"data":{"name":"t3"},"mark":{"type":"rect","clip":true,"cornerRadius":{"expr":"min(58,0.095*min(datum.x1-datum.x0,datum.y1-datum.y0))"}},"encoding":{"x":{"field":"x0","type":"quantitative","scale":{"domain":[27,1336],"range":[0,436.33],"nice":false,"zero":false},"axis":null},"x2":{"field":"x1"},"y":{"field":"y0","type":"quantitative","scale":{"domain":[42,1086],"range":[122.8,470.8],"nice":false,"zero":false},"axis":null},"y2":{"field":"y1"},"color":{"field":"id","type":"nominal","legend":null,"scale":{"range":["#40FFAD","#A5DFD9","#D37290","#7CE0AE","#050577","#E7219A","#86DDBA","#7BA83A","#F76C17","#8CE85A","#8F6517","#2E18C6","#C050A3","#C922FF","#766144","#E3C42B","#00DFB6","#DF1DBE","#3597D3","#AC2FBE","#83F84B","#7A300B","#0E8A87","#694769","#B1CFBC","#E63A96","#C2E41A","#EDC587","#E23B45","#16D820","#BEC0AD","#0ADB1A","#038C3A","#BEC4B6","#55DB66","#E0D8F0","#28D860","#70A070","#E06090","#60A0E0","#D0A040","#8060D0","#50C0E0","#E0C040","#E040E0","#50E0D0","#7070E0","#8A9050","#C0E030","#A0B0A0","#60C0D0","#E08060","#A040E0","#E0D050","#2A2070","#50D0F0","#C070E0","#E0E060","#70D0B0","#60B010","#5A0F20","#70F090","#F060B0","#A0E0D0","#B030E0","#C0E090","#50D0B0","#1C7F25","#5FAF7A","#E040A0","#C0C040","#8A6A50","#8080E0","#D0A050"]}}}},
{"data":{"values":[{"x0":30,"y0":61,"x1":1334,"y1":61},{"x0":30,"y0":61,"x1":30,"y1":1100},{"x0":1334,"y0":61,"x1":1334,"y1":1100}]},"mark":{"type":"rule","color":"black","strokeWidth":2.5,"clip":true},"encoding":{"x":{"field":"x0","type":"quantitative"},"x2":{"field":"x1"},"y":{"field":"y0","type":"quantitative"},"y2":{"field":"y1"}}},
{"data":{"values":[{"x0":134,"x1":2573,"y0":-183.6}]},"mark":{"type":"rule","color":"black","strokeWidth":3.7},"encoding":{"x":{"field":"x0","type":"quantitative"},"x2":{"field":"x1"},"y":{"field":"y0","type":"quantitative"}}},
{"data":{"values":[{"x0":450,"y0":-225,"label":"Matched Peripheral Blood"}]},"mark":{"type":"text","align":"left","baseline":"alphabetic","fontSize":48,"fontWeight":"bold","color":"black"},"encoding":{"x":{"field":"x0","type":"quantitative"},"y":{"field":"y0","type":"quantitative"},"text":{"field":"label"}}},
{"data":{"values":[{"x0":153,"y0":-30,"label":"Vγ CDR3 Diversity"}]},"mark":{"type":"text","align":"left","baseline":"alphabetic","fontSize":42.7,"color":"black"},"encoding":{"x":{"field":"x0","type":"quantitative"},"y":{"field":"y0","type":"quantitative"},"text":{"field":"label"}}}
]},
{"layer":[
{"data":{"name":"t4"},"mark":{"type":"rect","clip":true,"cornerRadius":{"expr":"min(58,0.095*min(datum.x1-datum.x0,datum.y1-datum.y0))"}},"encoding":{"x":{"field":"x0","type":"quantitative","scale":{"domain":[50,1281],"range":[457.67,868],"nice":false,"zero":false},"axis":null},"x2":{"field":"x1"},"y":{"field":"y0","type":"quantitative"},"y2":{"field":"y1"},"color":{"field":"id","type":"nominal","legend":null,"scale":{"range":["#F02E05","#3BFF6B","#589599","#F0B5E2","#366527","#73FC6E","#C62637","#CDEBB9","#4ABDDE","#6B706A","#A04A95","#91A00D","#E1A7DB","#67C8FA","#95D01F","#0FCDE6","#7D1F71","#33A254","#7E6AE2","#EBC5F0","#4E3676","#91FB4F","#1CEB9E","#D3124F","#2A4A44","#AD2A00","#24C389","#C8B95C","#FFC947","#444D3D","#3BF08A","#ABE6A7","#B683E0","#9B10FF","#DCA706","#B03CFF","#C8CC7C","#F2B235","#24087F","#74A4EA","#E28F06","#4098C8","#E3A0F0","#2F2080","#08D0E0","#C87838","#04056F","#C81020","#8FEB60","#70A8E0","#E8C860","#40D070","#508050","#D0E0B0","#40C0C0","#7880F0","#E070E0","#40E000","#F0A0F0","#00D000","#608040","#E0C0A0","#1000C0","#A0602A","#50807A","#00A050","#C04080","#E070C0","#70E0A0","#A080E0","#D0E060","#60B0E0","#E05080","#80D050","#C060E0","#50D0C0","#E0A050","#7080D0","#F050E0","#60E070","#B0A0D0","#D06040","#40D0E0","#E0E070","#9050C0","#50B060","#E080D0","#70C0F0","#C0E040","#D04090","#40E0A0","#A06090","#80F0C0","#6050E0","#E0B080","#30C050","#F070A0","#90D0E0","#C0A030","#7040C0","#A0E090","#E06060","#5090B0","#D0F050","#B040A0","#50E060","#9090A0","#E0D0A0","#107060","#F0E0B0","#40A040","#C0C0C0","#101010","#E090E0","#60A090","#3040D0","#103850","#B090F0","#80D080","#A09040","#8030B0","#5060E0","#9060C0","#D0C050","#E03090","#50B0D0","#D050A0","#C09050","#40E090","#A06070","#80C030","#A07090","#E04070","#60B040","#C04090","#90D070","#8040A0","#E0D050","#6090C0","#30A0E0","#B030A0","#D07090","#B01060","#70C090","#1040C0","#A08050"]}}}},
{"data":{"values":[{"x0":53,"y0":61,"x1":1281,"y1":61},{"x0":53,"y0":61,"x1":53,"y1":1100}]},"mark":{"type":"rule","color":"black","strokeWidth":2.5,"clip":true},"encoding":{"x":{"field":"x0","type":"quantitative"},"x2":{"field":"x1"},"y":{"field":"y0","type":"quantitative"},"y2":{"field":"y1"}}},
{"data":{"values":[{"x0":184,"y0":-30,"label":"Vδ CDR3 Diversity"}]},"mark":{"type":"text","align":"left","baseline":"alphabetic","fontSize":42.7,"color":"black"},"encoding":{"x":{"field":"x0","type":"quantitative"},"y":{"field":"y0","type":"quantitative"},"text":{"field":"label"}}}
]}
]}
]}
